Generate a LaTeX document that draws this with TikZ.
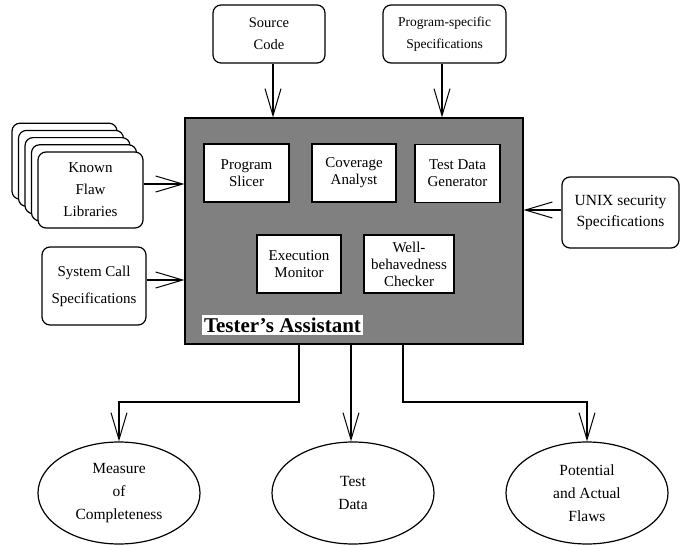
\documentclass[tikz,border=0pt]{standalone}
\usepackage{fontspec}
\setmainfont{Liberation Serif}
\usetikzlibrary{arrows.meta,shapes.geometric}
\begin{document}
\begin{tikzpicture}[x=1pt,y=-1pt,
  lw/.style={line width=1.2pt},
  arr/.style={lw,-{Straight Barb[length=27pt,width=16pt,line width=1pt]}},
  outbox/.style={draw,lw,rounded corners=8pt,fill=white,align=center,inner sep=0pt,
    font=\fontsize{15}{22}\selectfont},
  inbox/.style={draw,lw,fill=white,align=center,inner sep=0pt,
    font=\fontsize{15}{17}\selectfont},
  outell/.style={draw,lw,ellipse,align=center,inner sep=0pt,
    minimum width=162pt,minimum height=102pt,font=\fontsize{15.5}{23}\selectfont}
]
\useasboundingbox (0,0) rectangle (686,546);

% main box
\node[draw,lw,fill={rgb,255:red,128;green,128;blue,128},minimum width=338pt,minimum height=226pt,inner sep=0pt] (main) at (354,231) {};

% inner tools
\node[inbox,minimum width=85pt,minimum height=58pt] (slicer) at (246.5,173) {Program\\Slicer};
\node[inbox,minimum width=84pt,minimum height=58pt] (cov) at (354,173) {Coverage\\Analyst};
\node[inbox,minimum width=85pt,minimum height=58pt] (tdg) at (457.5,173.5) {Test Data\\Generator};
\node[inbox,minimum width=84pt,minimum height=58pt] (exec) at (299,264) {Execution\\Monitor};
\node[inbox,minimum width=90pt,minimum height=58pt] (wb) at (409,264) {Well-\\behavedness\\Checker};
\node[fill=white,inner xsep=2pt,inner ysep=0pt,minimum height=20pt,font=\fontsize{21}{21}\selectfont\bfseries] (ta) at (282.5,325) {Tester’s Assistant};

% top inputs
\node[outbox,minimum width=112pt,minimum height=58pt,font=\fontsize{14.5}{22}\selectfont] (src) at (269,34) {Source\\Code};
\node[outbox,minimum width=123pt,minimum height=58pt,font=\fontsize{13.5}{22}\selectfont] (pss) at (444.5,34) {Program-specific\\Specifications};

% known flaw libraries (stack)
\foreach \k in {4,3,2,1} {
  \node[outbox,minimum width=105pt,minimum height=76pt] (kfl\k) at ({90.5-6.5*\k},{190-7.2*\k}) {};
}
\node[outbox,minimum width=105pt,minimum height=76pt] (kfl) at (90.5,190) {Known\\Flaw\\Libraries};

\node[outbox,minimum width=104pt,minimum height=78pt,font=\fontsize{15}{27}\selectfont] (sys) at (94,286) {System Call\\Specifications};
\node[outbox,minimum width=117pt,minimum height=71pt,font=\fontsize{15.5}{21}\selectfont] (unix) at (620.5,212.5) {UNIX security\\Specifications};

% outputs
\node[outell] (meas) at (119,493) {Measure\\of\\Completeness};
\node[outell] (td) at (353,493) {Test\\Data};
\node[outell] (flaws) at (587,493) {Potential\\and Actual\\Flaws};

% input arrows
\draw[arr] ([xshift=4pt]src.south) -- ([xshift=4pt]src.south |- main.north);
\draw[arr] ([xshift=-2.5pt]pss.south) -- ([xshift=-2.5pt]pss.south |- main.north);
\draw[arr] ([yshift=6pt]kfl.east) -- ([yshift=6pt]kfl.east -| main.west);
\draw[arr] ([yshift=6pt]sys.east) -- ([yshift=6pt]sys.east -| main.west);
\draw[arr] ([yshift=2.5pt]unix.west) -- ([yshift=2.5pt]unix.west -| main.east);

% output arrows
\coordinate (b1) at (299,344);
\coordinate (b2) at (351,344);
\coordinate (b3) at (403,344);
\draw[arr] (b1) -- (299,402) -| (meas.north);
\draw[arr] (b2) -- (b2 |- td.north);
\draw[arr] (b3) -- (403,402) -| (flaws.north);
\end{tikzpicture}
\end{document}
